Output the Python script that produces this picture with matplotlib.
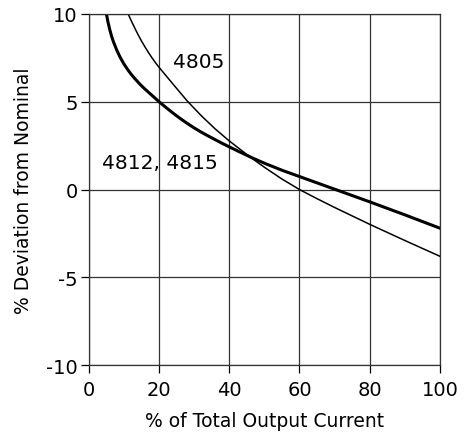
import matplotlib
matplotlib.use("Agg")
import matplotlib.pyplot as plt

# % of total output current vs % deviation from nominal
x_4805 = [11.2, 12, 13, 14, 15, 16, 17, 18, 19, 20, 24, 28, 32, 36, 40, 44, 46.8,
          50, 55, 60, 65, 70, 75, 80, 90, 100]
y_4805 = [10, 9.65, 9.23, 8.83, 8.46, 8.12, 7.8, 7.5, 7.22, 6.96, 6.0, 5.05, 4.21, 3.45, 2.77, 2.15, 1.73,
          1.27, 0.6, 0.0, -0.52, -1.02, -1.5, -1.98, -2.9, -3.8]

x_4812 = [5, 5.5, 6, 6.5, 7, 8, 9, 10, 11, 12, 13, 14, 15, 16, 17, 18, 19, 20,
          22, 24, 26, 28, 30, 32, 34, 36, 38, 40, 43, 46.8, 50, 55, 60, 65, 70, 75, 80, 85, 90, 95, 100]
y_4812 = [10, 9.5, 9.08, 8.72, 8.42, 7.92, 7.5, 7.15, 6.85, 6.58, 6.34, 6.12, 5.91, 5.72, 5.54, 5.36, 5.18, 5.0,
          4.67, 4.35, 4.05, 3.77, 3.51, 3.27, 3.05, 2.84, 2.63, 2.43, 2.14, 1.78, 1.5, 1.1, 0.74, 0.38, 0.02, -0.34,
          -0.7, -1.07, -1.44, -1.82, -2.2]

x_ticks = [0, 20, 40, 60, 80, 100]
y_ticks = [-10, -5, 0, 5, 10]

plt.rcParams['font.family'] = ['DejaVu Sans']
plt.rcParams['axes.unicode_minus'] = False

fig = plt.figure(figsize=(4.75, 4.39), dpi=100)
ax = fig.add_axes([0.187, 0.166, 0.739, 0.8])

ax.plot(x_4805, y_4805, color='black', lw=1.1, solid_joinstyle='round')
ax.plot(x_4812, y_4812, color='black', lw=2.2, solid_joinstyle='round')

# curve labels
ax.text(23.9, 7.0, '4805', fontsize=14.5, va='baseline', ha='left')
ax.text(3.7, 1.2, '4812, 4815', fontsize=14.5, va='baseline', ha='left')

ax.set_xlim(0, 100)
ax.set_ylim(-10, 10)
ax.set_xticks(x_ticks)
ax.set_yticks(y_ticks)
ax.grid(True, color='#333333', lw=0.9)
ax.set_axisbelow(True)
for s in ax.spines.values():
    s.set_color('#333333')
    s.set_linewidth(0.9)
ax.tick_params(direction='out', length=6, width=0.9, labelsize=14)
ax.tick_params(axis='x', pad=5)
ax.tick_params(axis='y', pad=2)
ax.set_xlabel('% of Total Output Current', fontsize=13.5, labelpad=8)
ax.set_ylabel('% Deviation from Nominal', fontsize=13.5, labelpad=9)

fig.savefig('out.png', dpi=100)
